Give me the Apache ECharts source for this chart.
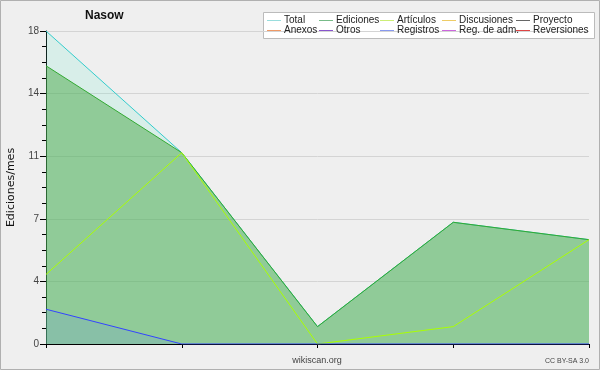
<!DOCTYPE html>
<html>
<head>
<meta charset="utf-8">
<script src="https://cdn.jsdelivr.net/npm/echarts@6/dist/echarts.min.js"></script>
<style>
html,body{margin:0;padding:0;background:#efefef;}
#c{width:600px;height:370px;}
</style>
</head>
<body>
<div id="c"></div>
<script>
const categories = ['1', '2', '3', '4', '5'];
const total = [18, 11, 1, 7, 6];
const ediciones = [16, 11, 1, 7, 6];
const articulos = [4, 11, 0, 1, 6];
const registros = [2, 0, 0, 0, 0];
const legendColumns = [
  ['Total', 'Anexos'],
  ['Ediciones', 'Otros'],
  ['Artículos', 'Registros'],
  ['Discusiones', 'Reg. de adm.'],
  ['Proyecto', 'Reversiones']
];
const legendColors = {
  'Total': '#99dddd', 'Ediciones': '#77bb88', 'Artículos': '#ccee77',
  'Discusiones': '#eecc66', 'Proyecto': '#666666', 'Anexos': '#ee9966',
  'Otros': '#8855cc', 'Registros': '#8899ee', 'Reg. de adm.': '#cc66dd',
  'Reversiones': '#dd4444'
};
const title = 'Nasow';
const yName = 'Ediciones/mes';

const chart = echarts.init(document.getElementById('c'));
const legendLefts = [267, 319, 380, 442, 516];
const legendFont = '"Liberation Sans", sans-serif';

const legends = legendColumns.map((col, i) => ({
  orient: 'vertical',
  left: legendLefts[i],
  top: 15.5,
  padding: 0,
  itemGap: 0,
  itemWidth: 14,
  itemHeight: 1,
  icon: 'rect',
  selectedMode: false,
  textStyle: { fontFamily: legendFont, fontSize: 10, color: '#222', lineHeight: 10, padding: [0, 0, 0, -2] },
  data: col.map(n => ({ name: n, icon: 'rect',
    itemStyle: { color: legendColors[n], borderWidth: 0 },
    lineStyle: { color: legendColors[n] } }))
}));

const emptyNames = ['Discusiones', 'Proyecto', 'Anexos', 'Otros', 'Reg. de adm.', 'Reversiones'];

const series = [
  { name: 'Total', type: 'line', data: total, symbol: 'none', z: 2,
    lineStyle: { color: '#33cccc', width: 1 }, itemStyle: { color: '#33cccc' },
    areaStyle: { color: 'rgba(100,238,205,0.16)', opacity: 1, origin: 'start' } },
  { name: 'Ediciones', type: 'line', data: ediciones, symbol: 'none', z: 3,
    lineStyle: { color: '#33aa33', width: 1 }, itemStyle: { color: '#33aa33' },
    areaStyle: { color: 'rgba(72,168,72,0.5)', opacity: 1, origin: 'start' } },
  { name: 'Artículos', type: 'line', data: articulos, symbol: 'none', z: 4,
    lineStyle: { color: '#aaff00', width: 1 }, itemStyle: { color: '#aaff00' } },
  { name: 'Registros', type: 'line', data: registros, symbol: 'none', z: 5,
    lineStyle: { color: '#3344ff', width: 1 }, itemStyle: { color: '#3344ff' },
    areaStyle: { color: 'rgba(104,148,232,0.2)', opacity: 1, origin: 'start' } }
].concat(emptyNames.map(n => ({ name: n, type: 'line', data: [], itemStyle: { color: legendColors[n] }, lineStyle: { color: legendColors[n] } })));

chart.setOption({
  backgroundColor: '#efefef',
  animation: false,
  grid: { left: 46, right: 11, top: 31, bottom: 26, containLabel: false, outerBoundsMode: 'none' },
  legend: legends,
  xAxis: {
    type: 'category', data: categories, boundaryGap: false,
    axisLine: { lineStyle: { color: '#000', width: 1 } },
    axisTick: { show: true, length: 4, lineStyle: { color: '#000' } },
    axisLabel: { show: false },
    splitLine: { show: false }
  },
  yAxis: {
    type: 'value', min: 0, max: 18, interval: 3.6,
    name: yName, nameLocation: 'middle', nameGap: 29, nameRotate: 90,
    nameTextStyle: { fontFamily: '"DejaVu Sans", sans-serif', fontSize: 11, color: '#111' },
    axisLine: { show: true, lineStyle: { color: '#000', width: 1 } },
    axisTick: { show: true, length: 6, lineStyle: { color: '#000' } },
    minorTick: { show: true, splitNumber: 4, length: 4, lineStyle: { color: '#000' } },
    axisLabel: {
      margin: 7, fontFamily: legendFont, fontSize: 10, color: '#444',
      formatter: v => String(Math.round(v))
    },
    splitLine: { show: true, lineStyle: { color: '#d4d4d4', width: 1 } }
  },
  series: series,
  graphic: [
    { type: 'rect', z: -1, shape: { x: 263.5, y: 12.5, width: 331, height: 26 },
      style: { fill: '#ffffff', stroke: '#bbbbbb', lineWidth: 1 } },
    { type: 'rect', z: 100, silent: true, shape: { x: 0.5, y: 0.5, width: 599, height: 369 },
      style: { fill: 'none', stroke: '#b0b0b0', lineWidth: 1 } },
    { type: 'text', left: 85, top: 10, z: 100,
      style: { text: title, font: 'bold 12px "Liberation Sans", sans-serif', fill: '#111' } },
    { type: 'text', z: 100, x: 317, y: 361,
      style: { text: 'wikiscan.org', font: '9px "Liberation Sans", sans-serif', fill: '#444',
        textAlign: 'center', textVerticalAlign: 'middle' } },
    { type: 'text', z: 100, x: 589, y: 361,
      style: { text: 'CC BY-SA 3.0', font: '7px "Liberation Sans", sans-serif', fill: '#444',
        textAlign: 'right', textVerticalAlign: 'middle' } }
  ]
});
</script>
</body>
</html>
